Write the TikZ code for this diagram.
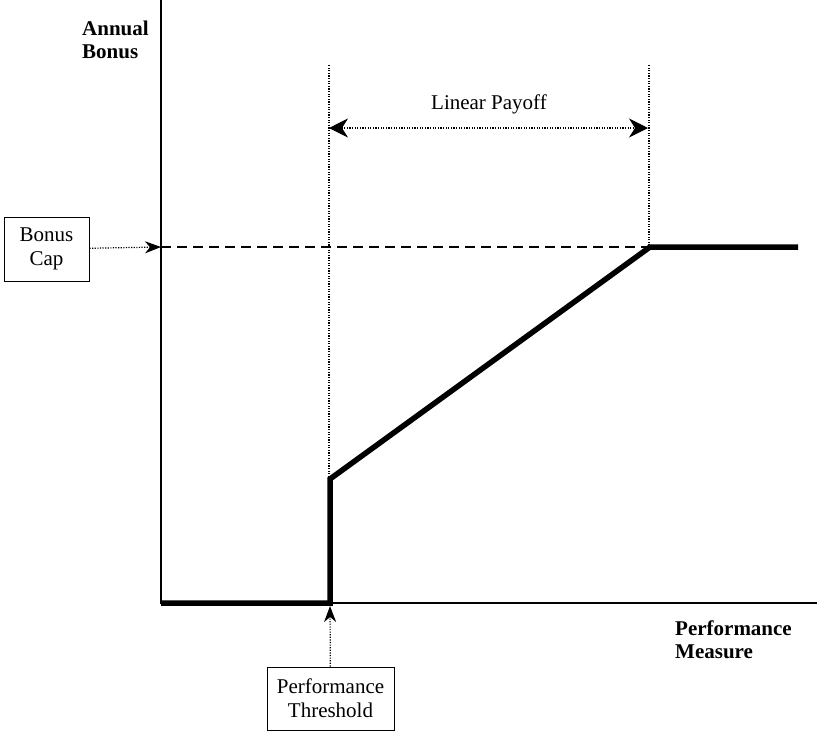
\documentclass[tikz,border=0pt]{standalone}
\usepackage{fontspec}
\setmainfont{Liberation Serif}
\usetikzlibrary{arrows.meta,positioning,calc}
\tikzset{labelbox/.style={draw,line width=1pt,align=center,inner sep=0pt},
  axislabel/.style={font=\fontsize{21}{23}\selectfont\bfseries,align=left,inner sep=0pt},
  guide/.style={line width=1.2pt,dash pattern=on 1.2pt off 1.4pt},
  bigtip/.tip={Stealth[length=19pt,width=19pt,inset=6pt]},
  smalltip/.tip={Stealth[length=16pt,width=12pt,inset=5pt]}}

\begin{document}
\begin{tikzpicture}[x=1pt,y=-1pt,font=\fontsize{21}{24}\selectfont]
\useasboundingbox (0,0) rectangle (817,732);
% axes
\coordinate (origin) at (161,603);
\coordinate (ytop) at (161,0);
\coordinate (xend) at (817,603);
\draw[line width=2pt] (ytop) -- (origin) -- (xend);
% corners of the payoff
\coordinate (thresh) at (330,603);
\coordinate (jump) at (330,479);
\coordinate (cap) at (650,247);
\coordinate (capend) at (798,247);
\coordinate (capaxis) at (161,247);
\coordinate (gl) at (329,65);
\coordinate (gr) at (649,65);
\coordinate (pl) at (329,128);
\coordinate (pr) at (648,128);
% guides
\draw[guide] (gl) -- (gl|-origin);
\draw[guide] (gr) -- (gr|-cap);
\draw[line width=1.3pt,dash pattern=on 10pt off 6pt] (capaxis) -- (cap);
\draw[line width=5.5pt,line join=miter] (origin) -- (thresh) -- (jump) -- (cap) -- (capend);
% labels
\node[axislabel,anchor=base west] (ylab) at (82,58) {Annual\\Bonus};
\node[axislabel,anchor=base west] (xlab) at (675,658) {Performance\\Measure};
\node[inner sep=0pt,anchor=base] (linlab) at (489,109) {Linear Payoff};
\node[labelbox,minimum width=85pt,minimum height=64pt] (capbox) at (46.5,249) {Bonus\\Cap};
\node[labelbox,minimum width=127pt,minimum height=63pt] (thbox) at (330.5,698.5) {Performance\\Threshold};
% arrows
\draw[guide,bigtip-bigtip] (pl) -- (pr);
\draw[guide,-smalltip] (capbox) -- (capaxis);
\draw[guide,-smalltip,shorten >=3pt] (thbox) -- (thresh);
\end{tikzpicture}
\end{document}
